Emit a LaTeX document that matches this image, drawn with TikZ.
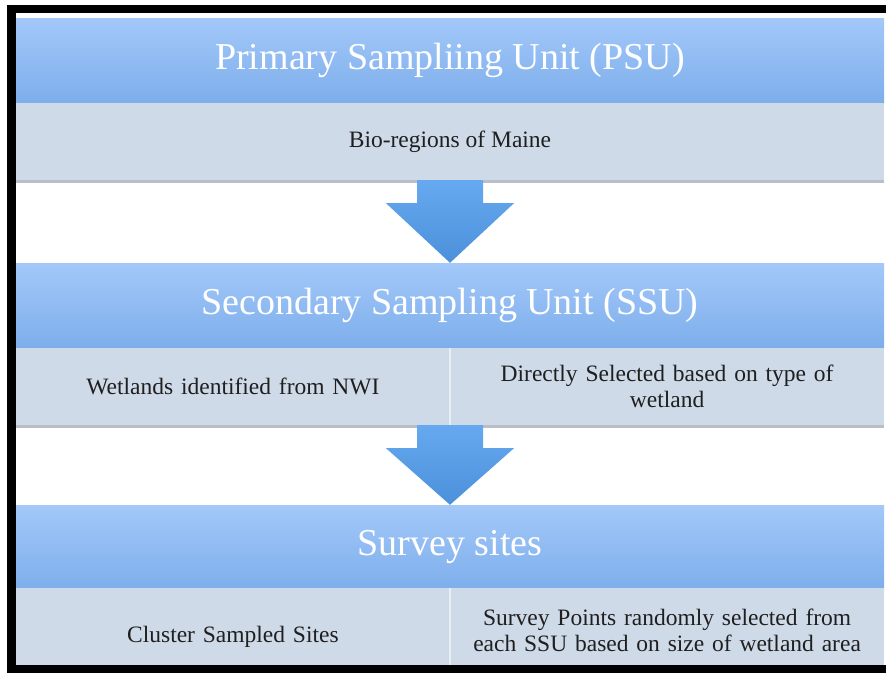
\documentclass[tikz,border=0pt]{standalone}
\usepackage{fontspec}
\setmainfont{Liberation Serif}
\usetikzlibrary{calc}   %allows coordinate calculations.

\definecolor{headtop}{HTML}{A3C8F9}
\definecolor{headbot}{HTML}{7DAEEB}
\definecolor{bandgray}{HTML}{CFDAE9}
\definecolor{arrowtop}{HTML}{66A9F0}
\definecolor{arrowbot}{HTML}{4B90DA}
\definecolor{shadowgray}{HTML}{B9BEC8}

\begin{document}
\begin{tikzpicture}[x=1pt,y=-1pt,
  header/.style={minimum width=868pt,minimum height=85pt,inner sep=0pt,
    top color=headtop,bottom color=headbot,text=white,
    font=\fontsize{38}{42}\selectfont},
  band/.style={minimum width=868pt,minimum height=77pt,inner sep=0pt,fill=bandgray,
    text=black!88,font=\fontsize{23.5}{26}\selectfont},
  cell/.style={text width=420pt,align=center,inner sep=0pt,
    text=black!88,font=\fontsize{23.5}{26}\selectfont}]

\useasboundingbox (0,0) rectangle (886,673);

% Headers and their grey rows.
\node[header] (psu) at (450,60.5) {Primary Sampliing Unit (PSU)};
\node[band] (psuBody) at (450,141.5) {Bio-regions of Maine};

\node[header] (ssu) at (450,305.5) {Secondary Sampling Unit (SSU)};
\node[band] (ssuBody) at (450,386.5) {};
\node[cell] (wetlands) at ($(ssuBody.west)!0.25!(ssuBody.east)$) {Wetlands identified from NWI};
\node[cell] (direct) at ($(ssuBody.west)!0.75!(ssuBody.east)$) {Directly Selected based on type of\\wetland};

\node[header] (svy) at (450,547.5) {Survey sites};
\node[band,minimum height=85pt] (svyBody) at (450,630.5) {};
\node[cell] (cluster) at ($(svyBody.west)!0.25!(svyBody.east)+(0,6)$) {Cluster Sampled Sites};
\node[cell] (points) at ($(svyBody.west)!0.75!(svyBody.east)$) {Survey Points randomly selected from\\each SSU based on size of wetland area};

% Light split between the two cells of a row.
\draw[white!55!bandgray,line width=1.5pt] (ssuBody.north) -- (ssuBody.south);
\draw[white!55!bandgray,line width=1.5pt] (svyBody.north) -- (svyBody.south);

% Thin shadow under the grey rows.
\foreach \row in {psuBody,ssuBody}
  \fill[shadowgray] (\row.south west) rectangle ($(\row.south east)+(0,2.5)$);

% Block arrows from each row down to the next header.
\foreach \from/\to in {psuBody/ssu,ssuBody/svy}
  \shade[top color=arrowtop,bottom color=arrowbot]
    ($(\from.south)+(-33,0)$) -- ($(\from.south)+(33,0)$) -- ($(\from.south)+(33,23)$)
    -- ($(\from.south)+(64,23)$) -- (\to.north) -- ($(\from.south)+(-64,23)$)
    -- ($(\from.south)+(-33,23)$) -- cycle;

% Black frame, left, top and bottom only.
\fill[black] (7,5) rectangle (886,13);
\fill[black] (7,5) rectangle (16,673);
\fill[black] (7,665) rectangle (886,673);

\end{tikzpicture}
\end{document}
